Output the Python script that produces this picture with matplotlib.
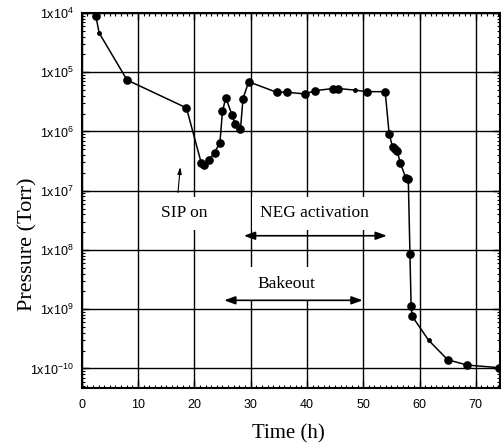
import matplotlib
matplotlib.use("Agg")
import matplotlib.pyplot as plt
from matplotlib.ticker import FixedLocator, MultipleLocator, LogLocator, NullFormatter

# Data (time in hours, pressure in Torr)
time_h = [2.5, 3.1, 8.05, 18.6, 21.25, 21.7, 22.6, 23.6, 24.55, 25.0, 25.6, 26.7,
          27.2, 28.2, 28.65, 29.65, 34.6, 36.5, 39.6, 41.5, 44.6, 45.6, 48.5,
          50.6, 53.9, 54.6, 55.2, 55.65, 56.05, 56.6, 57.55, 58.0, 58.3, 58.5,
          58.7, 61.6, 65.0, 68.5, 74.1]
pressure = [9.0e-5, 4.6e-5, 7.4e-6, 2.5e-6, 2.9e-7, 2.7e-7, 3.3e-7, 4.4e-7, 6.5e-7,
            2.2e-6, 3.7e-6, 1.9e-6, 1.35e-6, 1.1e-6, 3.6e-6, 6.9e-6, 4.6e-6, 4.6e-6,
            4.3e-6, 4.9e-6, 5.3e-6, 5.3e-6, 5.0e-6, 4.7e-6, 4.7e-6, 9.2e-7, 5.5e-7,
            5.0e-7, 4.6e-7, 2.9e-7, 1.65e-7, 1.6e-7, 8.5e-9, 1.15e-9, 7.6e-10,
            3.0e-10, 1.4e-10, 1.14e-10, 1.03e-10]
small_marker = [False, True, False, False, False, False, False, False, False,
                False, False, False, False, False, False, False, False, False,
                False, False, False, False, True, False, False, False, False,
                False, False, False, False, False, False, False, False,
                True, False, False, False]

x_ticks = [0, 10, 20, 30, 40, 50, 60, 70]
y_ticks = [1e-4, 1e-5, 1e-6, 1e-7, 1e-8, 1e-9, 1e-10]
y_tick_labels = ["1x10$^{\\mathregular{4}}$", "1x10$^{\\mathregular{5}}$",
                 "1x10$^{\\mathregular{6}}$", "1x10$^{\\mathregular{7}}$",
                 "1x10$^{\\mathregular{8}}$", "1x10$^{\\mathregular{9}}$",
                 "1x10$^{\\mathregular{-10}}$"]

sip_text = ("SIP on", 18.2, 10**-7.38)
sip_arrow = (17.1, 10**-7.03, 17.5, 10**-6.6)
neg_text = ("NEG activation", 41.4, 10**-7.38)
neg_span = (28.8, 54.2, 10**-7.76)
bake_text = ("Bakeout", 36.4, 10**-8.57)
bake_span = (25.3, 49.9, 10**-8.85)

plt.rcParams['font.family'] = ['Liberation Sans', 'DejaVu Sans']
plt.rcParams['mathtext.fontset'] = 'custom'
plt.rcParams['mathtext.rm'] = 'Liberation Sans'

fig = plt.figure(figsize=(5.01, 4.45), dpi=100)
ax = fig.add_axes([0.1631, 0.1281, 0.835, 0.8427])

ax.set_yscale('log')
ax.set_xlim(0, 74.3)
ax.set_ylim(10**-10.33, 1e-4)

ax.grid(True, which='major', color='black', linewidth=1.0, zorder=0)
ax.set_axisbelow(True)

ax.plot(time_h, pressure, color='black', linewidth=1.1, zorder=3)
big_x = [t for t, s in zip(time_h, small_marker) if not s]
big_y = [p for p, s in zip(pressure, small_marker) if not s]
sm_x = [t for t, s in zip(time_h, small_marker) if s]
sm_y = [p for p, s in zip(pressure, small_marker) if s]
ax.plot(big_x, big_y, 'o', color='black', markersize=5.2, zorder=4, linestyle='none')
ax.plot(sm_x, sm_y, 'o', color='black', markersize=2.5, zorder=4, linestyle='none')

ax.xaxis.set_major_locator(FixedLocator(x_ticks))
ax.xaxis.set_minor_locator(MultipleLocator(1))
ax.yaxis.set_major_locator(FixedLocator(y_ticks))
ax.set_yticklabels(y_tick_labels)
ax.yaxis.set_minor_locator(LogLocator(base=10, subs=range(2, 10), numticks=20))
ax.yaxis.set_minor_formatter(NullFormatter())

ax.tick_params(which='both', direction='in', top=True, right=True, labelsize=9)
ax.tick_params(which='major', length=5, width=1.0, pad=6)
ax.tick_params(which='minor', length=2.5, width=0.8)
ax.tick_params(axis='x', which='major', pad=8)
for s in ax.spines.values():
    s.set_linewidth(1.5)

serif = ['Liberation Serif', 'DejaVu Serif']
ax.set_xlabel("Time (h)", family=serif, fontsize=15)
ax.set_ylabel("Pressure (Torr)", family=serif, fontsize=16)
ax.xaxis.set_label_coords(0.493, -0.096)
ax.yaxis.set_label_coords(-0.106, 0.384)

box = dict(boxstyle='square,pad=0.5', facecolor='white', edgecolor='none')
for (t, x, y) in (sip_text, neg_text, bake_text):
    ax.text(x, y, t, family=serif, fontsize=12.5, ha='center', va='center',
            bbox=box, zorder=2)

arrow_style = dict(arrowstyle='<|-|>,head_length=0.55,head_width=0.2',
                   color='black', lw=1.2, shrinkA=0, shrinkB=0, mutation_scale=12)
for (x0, x1, y) in (neg_span, bake_span):
    ax.annotate("", xy=(x1, y), xytext=(x0, y), arrowprops=arrow_style, zorder=3)

ax.annotate("", xy=(sip_arrow[2], sip_arrow[3]), xytext=(sip_arrow[0], sip_arrow[1]),
            arrowprops=dict(arrowstyle='-|>,head_length=0.5,head_width=0.15',
                            color='black', lw=0.8, shrinkA=0, shrinkB=0,
                            mutation_scale=8), zorder=3)

fig.savefig("out.png", dpi=100)
